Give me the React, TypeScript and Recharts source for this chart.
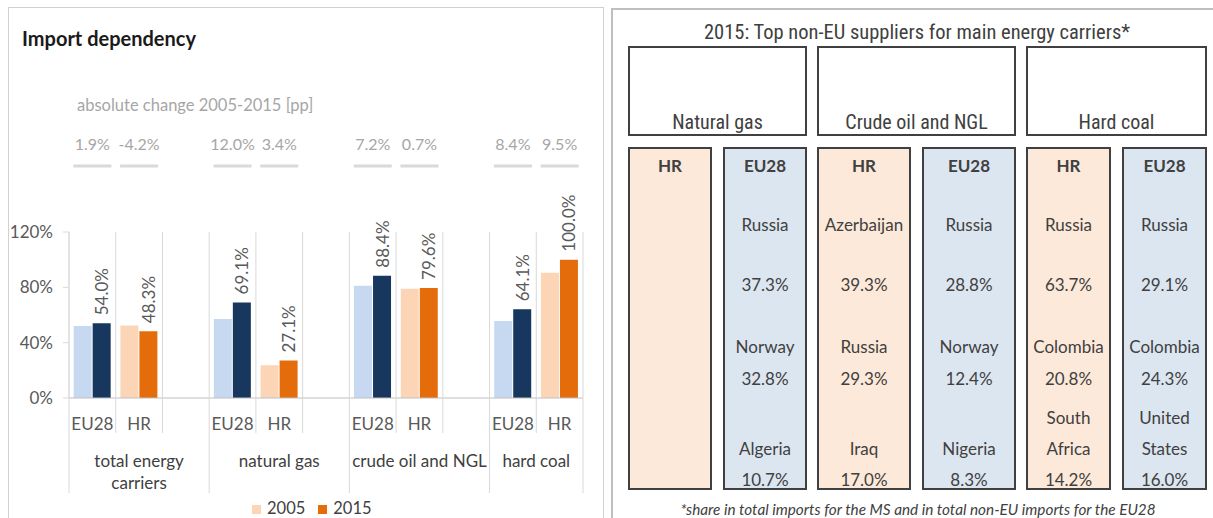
import { BarChart, Bar, XAxis, YAxis, Cell, LabelList, Legend } from "recharts";

// left chart: 11 slots (EU28 / HR / spacer per energy carrier)
const slotCountries = ["EU28", "HR", "", "EU28", "HR", "", "EU28", "HR", "", "EU28", "HR"];
const slotGroups = [0, 0, 0, 1, 1, 1, 2, 2, 2, 3, 3];
const groupLabels = [["total energy", "carriers"], ["natural gas"], ["crude oil and NGL"], ["hard coal"]];
const values2005 = [52.1, 52.5, null, 57.1, 23.7, null, 81.2, 78.9, null, 55.7, 90.5];
const values2015 = [54.0, 48.3, null, 69.1, 27.1, null, 88.4, 79.6, null, 64.1, 100.0];
const changes = [1.9, -4.2, null, 12.0, 3.4, null, 7.2, 0.7, null, 8.4, 9.5];
const yTicks = [0, 40, 80, 120];

// right table: top non-EU suppliers 2015
const carriers = ["Natural gas", "Crude oil and NGL", "Hard coal"];
const hrCountries = [[], ["Azerbaijan", "Russia", "Iraq"], ["Russia", "Colombia", "South Africa"]];
const hrShares = [[], [39.3, 29.3, 17.0], [63.7, 20.8, 14.2]];
const euCountries = [["Russia", "Norway", "Algeria"], ["Russia", "Norway", "Nigeria"], ["Russia", "Colombia", "United States"]];
const euShares = [[37.3, 32.8, 10.7], [28.8, 12.4, 8.3], [29.1, 24.3, 16.0]];

const colors: Record<string, string[]> = {
  EU28: ["#c6d9f1", "#17375e"],
  HR: ["#fbd5b5", "#e46c0a"],
};

const FONT = "Lato, 'Open Sans', sans-serif";
const NARROW = "'Liberation Sans Narrow', 'Arial Narrow', 'Roboto Condensed', sans-serif";
const PLOT_H = 166;

const rows = slotCountries.map((c, i) => ({
  id: i,
  country: c,
  v2005: values2005[i],
  v2015: values2015[i],
  change: changes[i],
}));

const SlotTick = (props: any) => {
  const { x, y, payload } = props;
  const i = payload.value as number;
  const half = payload.offset ?? 514 / slotCountries.length / 2;
  const left = x - half;
  const g = slotGroups[i];
  const first = i === 0 || slotGroups[i - 1] !== g;
  const last = i === slotCountries.length - 1;
  const size = slotGroups.filter((s) => s === g).length;
  return (
    <g>
      <line x1={left} x2={left} y1={y - PLOT_H} y2={y + (first ? 95 : 35)} stroke="#d9d9d9" />
      {last && <line x1={x + half} x2={x + half} y1={y - PLOT_H} y2={y + 95} stroke="#d9d9d9" />}
      <text x={x} y={y + 25} textAnchor="middle" dominantBaseline="central" fill="#595959" fontSize={17}>
        {slotCountries[i]}
      </text>
      {first &&
        groupLabels[g].map((t, k) => (
          <text key={k} x={left + size * half} y={y + 62 + k * 22} textAnchor="middle" dominantBaseline="central" fill="#404040" fontSize={17}>
            {t}
          </text>
        ))}
    </g>
  );
};

const ChangeTick = (props: any) => {
  const { x, y, payload } = props;
  const c = changes[payload.value as number];
  if (c == null) return null;
  return (
    <g>
      <text x={x} y={y - 89} textAnchor="middle" dominantBaseline="central" fill="#a6a6a6" fontSize={16}>
        {c.toFixed(1)}%
      </text>
      <line x1={x - 19} x2={x + 19} y1={y - 66} y2={y - 66} stroke="#d9d9d9" strokeWidth={3} />
    </g>
  );
};

const renderValueLabel = (props: any) => {
  const { x, y, width, value } = props;
  if (value == null) return null;
  const cx = x + width / 2;
  const ty = y - 8;
  return (
    <text x={cx} y={ty} transform={`rotate(-90 ${cx} ${ty})`} textAnchor="start" dominantBaseline="central" fill="#595959" fontSize={17}>
      {Number(value).toFixed(1)}%
    </text>
  );
};

const SupplierCell = ({ label, names, shares, fill, width }: any) => (
  <div style={{ position: "relative", width, height: 343, boxSizing: "border-box", background: fill, border: "2px solid #404040" }}>
    <div style={{ position: "absolute", top: 16, left: 0, right: 0, transform: "translateY(-50%)", textAlign: "center", fontWeight: 700 }}>{label}</div>
    {names.map((n: string, k: number) => {
      const nameY = [76, 198, 300][k];
      const shareY = [135, 229, 330][k];
      return (
        <div key={k}>
          <div style={{ position: "absolute", top: nameY + 15, left: 2, right: 2, transform: "translateY(-100%)", textAlign: "center", lineHeight: "31px" }}>{n}</div>
          <div style={{ position: "absolute", top: shareY, left: 0, right: 0, transform: "translateY(-50%)", textAlign: "center" }}>{shares[k].toFixed(1)}%</div>
        </div>
      );
    })}
  </div>
);

const groupWidths = [179, 199, 181];

export default function App() {
  return (
    <div style={{ position: "absolute", left: 0, top: 0, width: 1213, height: 518, overflow: "hidden", background: "#fff", fontFamily: FONT, color: "#404040" }}>
      {/* left panel */}
      <div style={{ position: "absolute", left: 8, top: 7, width: 596, height: 530, border: "1.5px solid #d0d0d0", boxSizing: "border-box" }} />
      <div style={{ position: "absolute", left: 22, top: 26, fontSize: 20, fontWeight: 700, color: "#1a1a1a", lineHeight: "24px" }}>Import dependency</div>
      <div style={{ position: "absolute", left: 77, top: 95, fontSize: 16.5, color: "#a6a6a6", lineHeight: "20px" }}>absolute change 2005-2015 [pp]</div>
      <div style={{ position: "absolute", left: 0, top: 0 }}>
        <BarChart width={604} height={518} data={rows} margin={{ top: 90, right: 21, bottom: 0, left: 0 }} barCategoryGap="10%" barGap={1} style={{ fontFamily: FONT }}>
          <XAxis xAxisId="top" orientation="top" dataKey="id" height={142} axisLine={false} tickLine={false} tickSize={0} tickMargin={0} interval={0} tick={<ChangeTick />} />
          <XAxis xAxisId="bottom" dataKey="id" height={100} axisLine={{ stroke: "#bfbfbf" }} tickLine={false} tickSize={0} tickMargin={0} interval={0} tick={<SlotTick />} />
          <YAxis width={69} domain={[0, 120]} ticks={yTicks} tickFormatter={(v) => `${v}%`} axisLine={{ stroke: "#d9d9d9" }} tickLine={{ stroke: "#d9d9d9" }} tickSize={6} tickMargin={10} tick={{ fill: "#595959", fontSize: 17 }} />
          <Legend
            verticalAlign="bottom"
            align="left"
            iconType="square"
            iconSize={9}
            wrapperStyle={{ left: 252, height: 20, fontSize: 16.5, lineHeight: "20px" }}
            formatter={(v) => <span style={{ color: "#404040", marginLeft: 2, marginRight: 3 }}>{v}</span>}
          />
          <Bar xAxisId="bottom" dataKey="v2005" name="2005" fill={colors.HR[0]} isAnimationActive={false}>
            {rows.map((r, i) => (
              <Cell key={i} fill={(colors[r.country] || colors.HR)[0]} />
            ))}
          </Bar>
          <Bar xAxisId="bottom" dataKey="v2015" name="2015" fill={colors.HR[1]} isAnimationActive={false}>
            {rows.map((r, i) => (
              <Cell key={i} fill={(colors[r.country] || colors.HR)[1]} />
            ))}
            <LabelList dataKey="v2015" content={renderValueLabel} />
          </Bar>
        </BarChart>
      </div>

      {/* right panel */}
      <div style={{ position: "absolute", left: 611, top: 8, width: 620, height: 530, border: "2px solid #bfbfbf", boxSizing: "border-box" }} />
      <div style={{ position: "absolute", left: 628, width: 578, top: 21, textAlign: "center", fontFamily: NARROW, fontSize: 20.5, lineHeight: "22px", color: "#404040" }}>
        2015: Top non-EU suppliers for main energy carriers*
      </div>
      <div style={{ position: "absolute", left: 628, top: 46, display: "flex", gap: 10, fontSize: 17 }}>
        {carriers.map((c, i) => (
          <div key={c} style={{ width: groupWidths[i] }}>
            <div style={{ height: 90, boxSizing: "border-box", border: "2px solid #404040", display: "flex", alignItems: "flex-end", justifyContent: "center", paddingBottom: 1, fontFamily: NARROW, fontSize: 20, lineHeight: "22px" }}>
              {c}
            </div>
            <div style={{ display: "flex", justifyContent: "space-between", marginTop: 11 }}>
              <SupplierCell label="HR" names={hrCountries[i]} shares={hrShares[i]} fill="#fde9d9" width={(groupWidths[i] - 11) / 2} />
              <SupplierCell label="EU28" names={euCountries[i]} shares={euShares[i]} fill="#dce6f1" width={(groupWidths[i] - 11) / 2} />
            </div>
          </div>
        ))}
      </div>
      <div style={{ position: "absolute", left: 618, width: 600, top: 500, textAlign: "center", fontStyle: "italic", fontSize: 15.3, lineHeight: "18px", color: "#404040" }}>
        *share in total imports for the MS and in total non-EU imports for the EU28
      </div>
    </div>
  );
}
